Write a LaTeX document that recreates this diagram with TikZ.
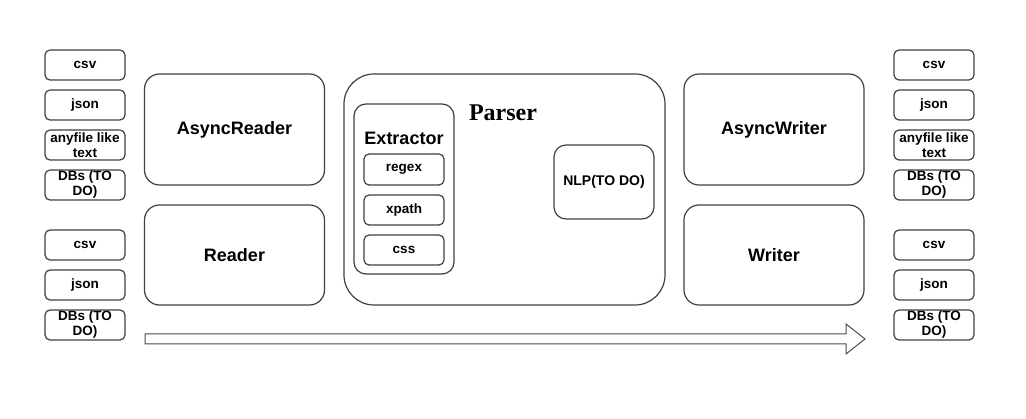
\documentclass[tikz,border=0pt]{standalone}
\usepackage{fontspec}
\setmainfont{Liberation Sans}
\newfontfamily\titlefont{Liberation Serif}
\usepackage{tikz}

\tikzset{
  box/.style={draw=black!75, line width=1.2pt, fill=white, align=center, inner sep=0pt},
  smallbox/.style={box, rounded corners=5pt, minimum width=80pt, minimum height=30pt,
    font=\fontsize{13.5}{15}\selectfont\bfseries},
  bigbox/.style={box, rounded corners=15pt, minimum width=180pt,
    font=\fontsize{18}{21}\selectfont\bfseries},
  midbox/.style={box, rounded corners=12pt}
}

\begin{document}
\begin{tikzpicture}[x=1pt, y=-1pt]
\path[use as bounding box] (0,0) rectangle (1026,419);

% sources and sinks
\foreach \y/\t in {65/csv, 105/json, 145/anyfile like\\text, 185/DBs (TO\\DO),
                   245/csv, 285/json, 325/DBs (TO\\DO)}
{
  \node[smallbox] (src-\y) at (85,\y) {\t};
  \node[smallbox] (dst-\y) at (934,\y) {\t};
}

% readers
\node[bigbox, minimum height=111pt] (asyncreader) at (234.5,129.5) {AsyncReader};
\node[bigbox, minimum height=100pt] (reader) at (234.5,255) {Reader};

% parser
\node[box, rounded corners=30pt, minimum width=321pt, minimum height=231pt] (parser) at (504.5,189.5) {};
\node[font=\titlefont\fontsize{24}{27}\selectfont\bfseries] (parsertitle) at (503,113) {Parser};
\node[midbox, minimum width=100pt, minimum height=170pt] (extractor) at (404,189) {};
\node[font=\fontsize{18}{21}\selectfont\bfseries] (extractortitle) at (404,138) {Extractor};
\node[smallbox, minimum height=31pt] (regex) at (404,169.5) {regex};
\node[smallbox] (xpath) at (404,210) {xpath};
\node[smallbox] (css) at (404,250) {css};
\node[midbox, minimum width=100pt, minimum height=74pt, font=\fontsize{14}{16}\selectfont\bfseries] (nlp) at (604,182) {NLP(TO DO)};

% writers
\node[bigbox, minimum height=111pt] (asyncwriter) at (774,129.5) {AsyncWriter};
\node[bigbox, minimum height=100pt] (writer) at (774,255) {Writer};

% flow
\draw[draw=black!70, line width=1pt, fill=white] (145,334) -- (846,334) -- (846,324) -- (865,339)
  -- (846,354) -- (846,344) -- (145,344) -- cycle;

\end{tikzpicture}
\end{document}
